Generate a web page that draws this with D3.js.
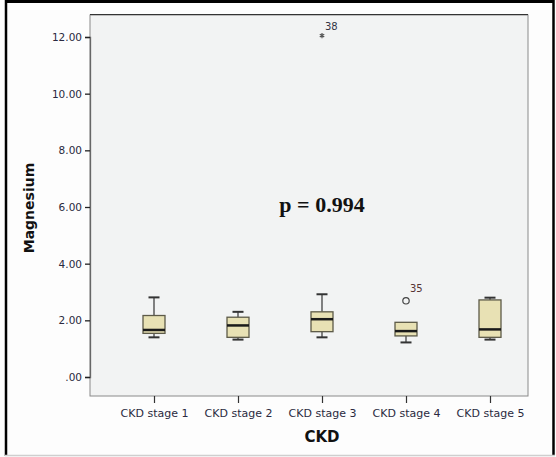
<!DOCTYPE html>
<html><head><meta charset="utf-8">
<script src="https://cdn.jsdelivr.net/npm/d3@7"></script>
<style>html,body{margin:0;padding:0;background:#fff;}svg{display:block;}</style>
</head><body>
<script>
const categories = ["CKD stage 1","CKD stage 2","CKD stage 3","CKD stage 4","CKD stage 5"];
const whiskerLow  = [1.40, 1.32, 1.40, 1.22, 1.32];
const q1Values    = [1.54, 1.40, 1.60, 1.45, 1.40];
const medians     = [1.66, 1.82, 2.04, 1.62, 1.68];
const q3Values    = [2.17, 2.11, 2.30, 1.93, 2.72];
const whiskerHigh = [2.81, 2.30, 2.92, 1.93, 2.80];
const outliers = [{cat:"CKD stage 4", value:2.69, id:"35", type:"circle"}];
const extremes = [{cat:"CKD stage 3", value:12.05, id:"38", type:"star"}];
const yTicks = [0,2,4,6,8,10,12];
const yTickLabels = [".00","2.00","4.00","6.00","8.00","10.00","12.00"];
const pText = "p = 0.994";

const W=556,H=457;
const svg=d3.select("body").append("svg").attr("width",W).attr("height",H);
svg.append("rect").attr("width",W).attr("height",H).attr("fill","#fdfdfd");
// outer frame
svg.append("line").attr("x1",5).attr("x2",554).attr("y1",1.5).attr("y2",1.5).attr("stroke","#000").attr("stroke-width",3);
svg.append("line").attr("x1",6).attr("x2",6).attr("y1",0).attr("y2",456).attr("stroke","#000").attr("stroke-width",2.5);
svg.append("line").attr("x1",553.5).attr("x2",553.5).attr("y1",0).attr("y2",456).attr("stroke","#000").attr("stroke-width",2.5);
svg.append("line").attr("x1",5).attr("x2",555).attr("y1",455.5).attr("y2",455.5).attr("stroke","#cfcfcf").attr("stroke-width",1.5);

const pl=90, pr=528, pt=15, pb=396;
svg.append("rect").attr("x",pl).attr("y",pt).attr("width",pr-pl).attr("height",pb-pt)
  .attr("fill","#f2f3f3").attr("stroke","#8a8a8a").attr("stroke-width",1);
svg.append("line").attr("x1",pl).attr("x2",pr).attr("y1",pt-0.5).attr("y2",pt-0.5).attr("stroke","#333").attr("stroke-width",1.2);

const y=d3.scaleLinear().domain([0,12]).range([377,37]);
const x=d3.scalePoint().domain(categories).range([154,490]);

const yAxis=svg.append("g").attr("transform",`translate(${pl},0)`)
  .call(d3.axisLeft(y).tickValues(yTicks).tickSize(5).tickPadding(3)
    .tickFormat((d,i)=>yTickLabels[yTicks.indexOf(d)]));
yAxis.select(".domain").attr("stroke","#666").attr("stroke-width",1.3);
yAxis.selectAll(".tick line").attr("stroke","#222").attr("stroke-width",1.3);
yAxis.selectAll("text").attr("font-family","DejaVu Sans").attr("font-size","10.5px").attr("fill","#2a2a40");

const xAxis=svg.append("g").attr("transform",`translate(0,${pb})`)
  .call(d3.axisBottom(x).tickSize(7).tickPadding(6));
xAxis.select(".domain").remove();
xAxis.selectAll(".tick line").attr("stroke","#333").attr("stroke-width",1.2);
xAxis.selectAll("text").attr("font-family","DejaVu Sans").attr("font-size","11px").attr("fill","#2a2a40");

svg.append("text").attr("x",322).attr("y",442).attr("text-anchor","middle")
  .attr("font-family","DejaVu Sans").attr("font-weight","bold").attr("font-size","15px").attr("fill","#111").text("CKD");
svg.append("text").attr("transform","translate(34,208) rotate(-90)").attr("text-anchor","middle")
  .attr("font-family","DejaVu Sans").attr("font-weight","bold").attr("font-size","14px").attr("fill","#111").text("Magnesium");

const bw=22, cw=11;
const data=categories.map((c,i)=>({c,lo:whiskerLow[i],q1:q1Values[i],med:medians[i],q3:q3Values[i],hi:whiskerHigh[i]}));
const g=svg.append("g");
data.forEach(d=>{
  const cx=x(d.c);
  const gg=g.append("g");
  gg.append("line").attr("x1",cx).attr("x2",cx).attr("y1",y(d.hi)).attr("y2",y(d.q3)).attr("stroke","#333").attr("stroke-width",1.2);
  gg.append("line").attr("x1",cx).attr("x2",cx).attr("y1",y(d.q1)).attr("y2",y(d.lo)).attr("stroke","#333").attr("stroke-width",1.2);
  if(d.hi>d.q3) gg.append("line").attr("x1",cx-cw/2).attr("x2",cx+cw/2).attr("y1",y(d.hi)).attr("y2",y(d.hi)).attr("stroke","#333").attr("stroke-width",2);
  gg.append("line").attr("x1",cx-cw/2).attr("x2",cx+cw/2).attr("y1",y(d.lo)).attr("y2",y(d.lo)).attr("stroke","#333").attr("stroke-width",2);
  gg.append("rect").attr("x",cx-bw/2).attr("width",bw).attr("y",y(d.q3)).attr("height",y(d.q1)-y(d.q3))
    .attr("fill","#e8e1b4").attr("stroke","#5d5a48").attr("stroke-width",1.3);
  gg.append("line").attr("x1",cx-bw/2).attr("x2",cx+bw/2).attr("y1",y(d.med)).attr("y2",y(d.med)).attr("stroke","#1a1a1a").attr("stroke-width",2.5);
});
outliers.forEach(o=>{
  const cx=x(o.cat);
  g.append("circle").attr("cx",cx).attr("cy",y(o.value)).attr("r",3.2).attr("fill","none").attr("stroke","#444").attr("stroke-width",1.2);
  g.append("text").attr("x",cx+4).attr("y",y(o.value)-9).attr("font-family","DejaVu Sans").attr("font-size","10px").attr("fill","#553333").text(o.id);
});
extremes.forEach(o=>{
  const cx=x(o.cat);
  g.append("path").attr("transform",`translate(${cx},${y(o.value)})`).attr("d",d3.symbol(d3.symbolAsterisk,18)())
    .attr("stroke","#555").attr("stroke-width",1.2).attr("fill","none");
  g.append("text").attr("x",cx+3).attr("y",y(o.value)-6).attr("font-family","DejaVu Sans").attr("font-size","10px").attr("fill","#333344").text(o.id);
});

svg.append("text").attr("x",322).attr("y",212).attr("text-anchor","middle")
  .attr("font-family","Liberation Serif").attr("font-weight","bold").attr("font-size","22px").attr("fill","#111").text(pText);
</script>
</body></html>
